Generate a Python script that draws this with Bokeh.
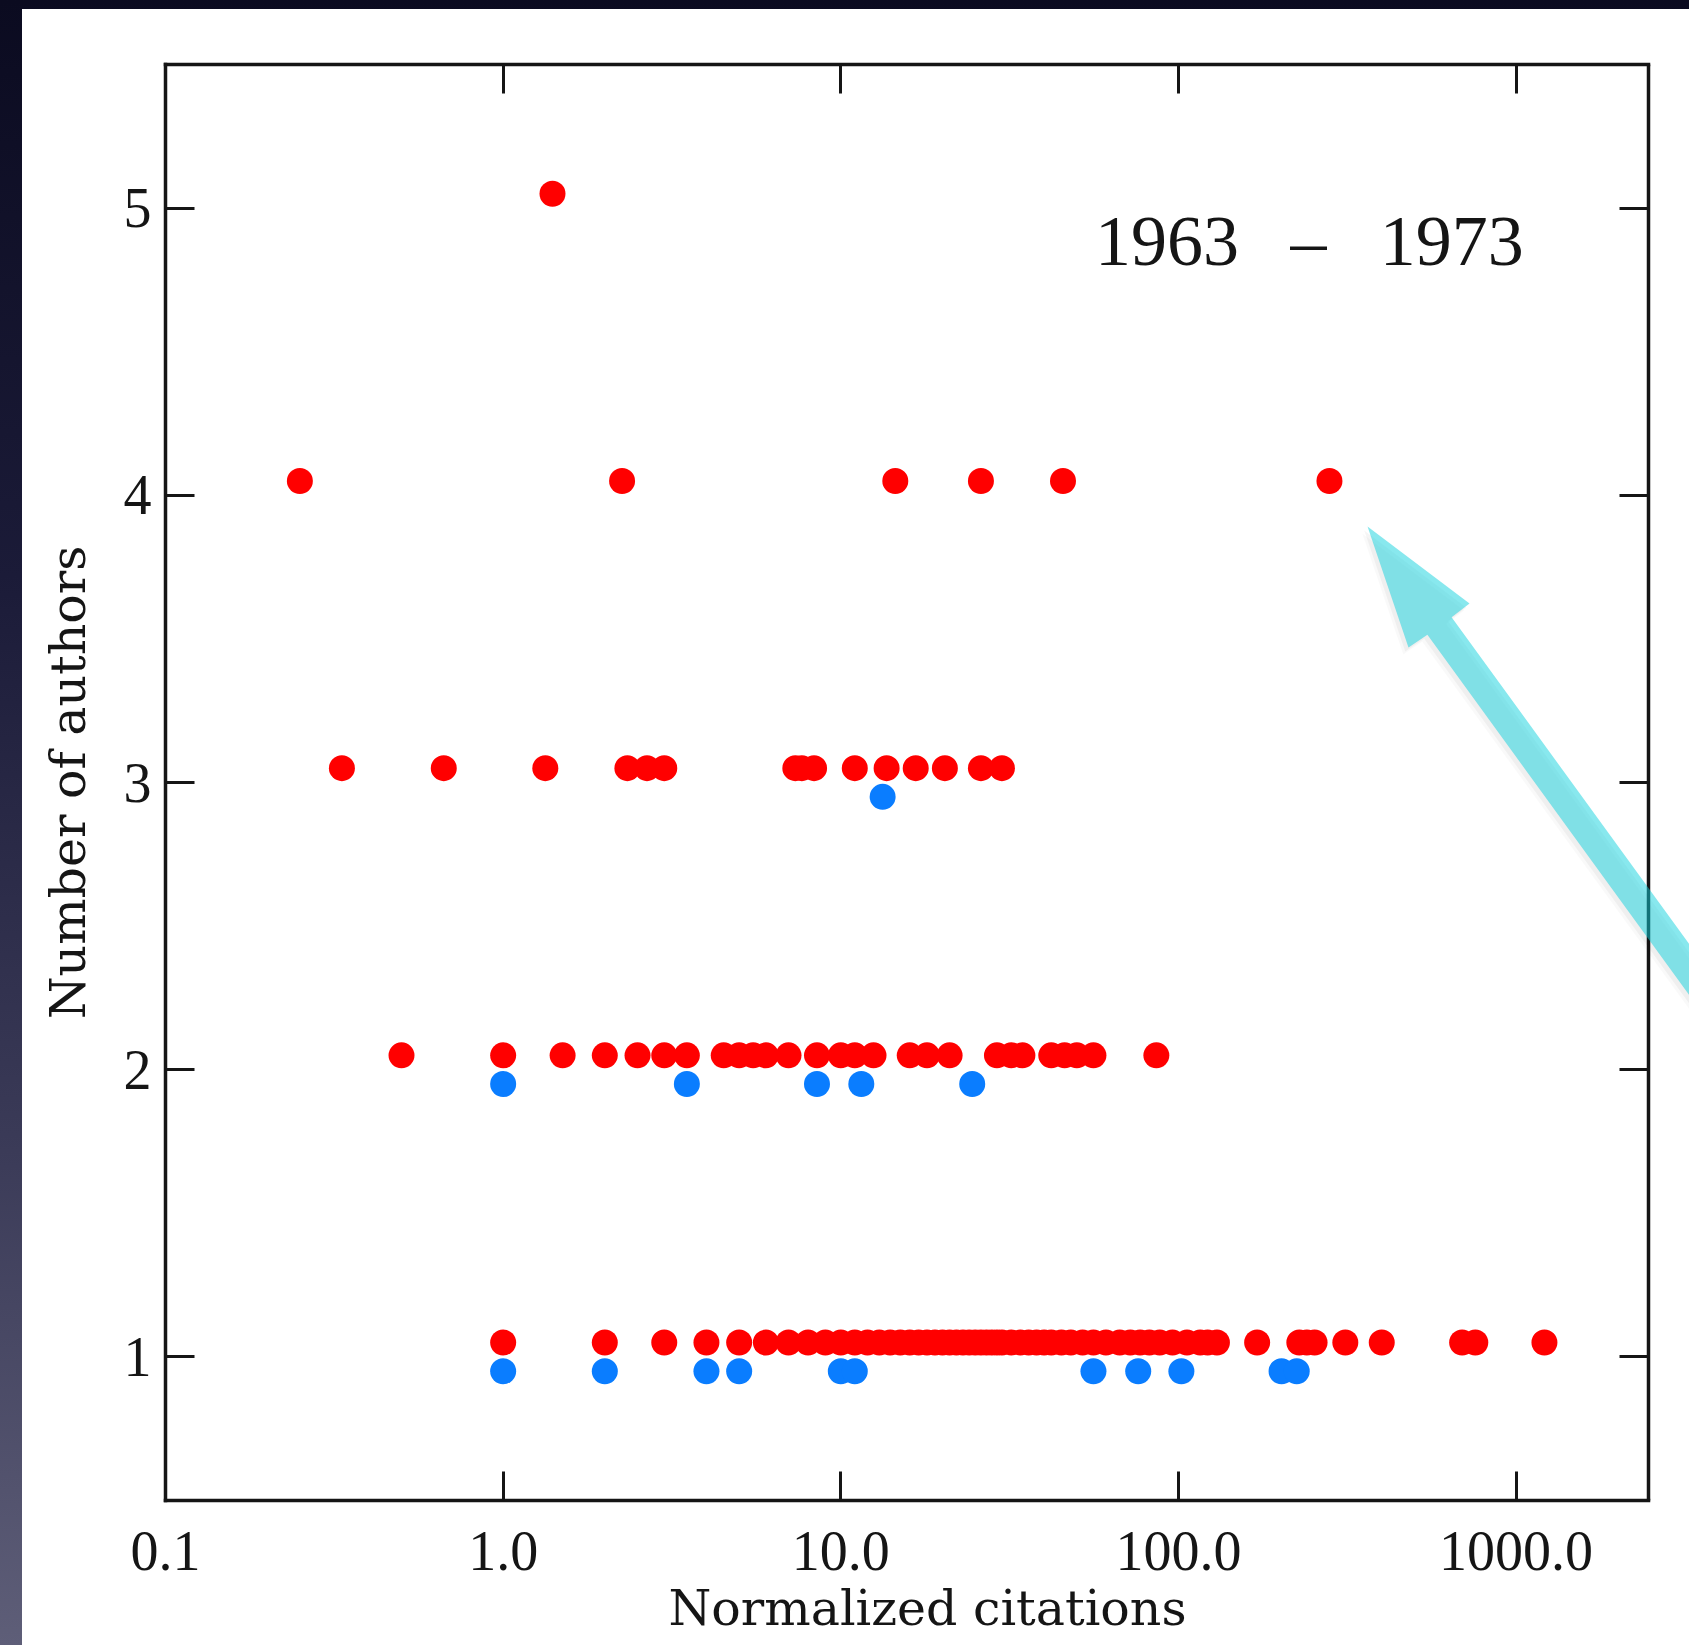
from bokeh.plotting import figure
from bokeh.models import (ColumnDataSource, FixedTicker, LogAxis, LinearAxis,
                          PolyAnnotation, Label)
from bokeh.embed import file_html
from bokeh.resources import INLINE

# ---------------- data ----------------
author_levels = [1, 2, 3, 4, 5]

# red points: normalized citations per number of authors
red_1 = [1, 2, 3, 4, 5, 6, 7, 8, 9, 10, 11, 12, 13, 14, 15, 16, 17, 18, 19, 20,
         21, 22, 23, 24, 25, 26, 27, 28, 29, 30, 32, 34, 36, 38, 40, 42, 45, 48,
         52, 56, 61, 67, 72, 77, 82, 88, 96, 106, 116, 122, 130, 171, 228, 240,
         253, 312, 400, 692, 757, 1213]
red_2 = [0.5, 1.0, 1.5, 2.0, 2.5, 3.0, 3.5, 4.5, 5.0, 5.5, 6.0, 7.0, 8.5, 10.0,
         11.0, 12.5, 16.0, 18.0, 21.0, 29.0, 32.0, 34.5, 42.0, 46.0, 50.0, 56.0,
         86.0]
red_3 = [0.333, 0.667, 1.333, 2.333, 2.667, 3.0, 7.333, 7.667, 8.333, 11.0,
         13.667, 16.667, 20.333, 26.0, 30.0]
red_4 = [0.25, 2.25, 14.5, 26.0, 45.5, 280.0]
red_5 = [1.4]

# blue points
blue_1 = [1, 2, 4, 5, 10, 11, 56, 76, 102, 202, 224]
blue_2 = [1.0, 3.5, 8.5, 11.5, 24.5]
blue_3 = [13.3]

red_by_level = {1: red_1, 2: red_2, 3: red_3, 4: red_4, 5: red_5}
blue_by_level = {1: blue_1, 2: blue_2, 3: blue_3}

x_ticks = [0.1, 1, 10, 100, 1000]
x_tick_labels = ["0.1", "1.0", "10.0", "100.0", "1000.0"]
y_ticks = [1, 2, 3, 4, 5]

period_start = "1963"
period_dash = "\u2013"
period_end = "1973"

# ---------------- sources ----------------
red_x, red_y, blue_x, blue_y = [], [], [], []
for lvl in author_levels:
    for v in red_by_level.get(lvl, []):
        red_x.append(v)
        red_y.append(lvl + 0.05)
    for v in blue_by_level.get(lvl, []):
        blue_x.append(v)
        blue_y.append(lvl - 0.05)

red_src = ColumnDataSource(dict(x=red_x, y=red_y))
blue_src = ColumnDataSource(dict(x=blue_x, y=blue_y))

# ---------------- figure ----------------
BOX_RIGHT = 2466          # right edge of the drawn box (data units)
W, H = 1667, 1636
p = figure(width=W, height=H, x_axis_type="log",
           x_range=(0.1, 3262), y_range=(0.5, 5.5),
           output_backend="svg", toolbar_location=None,
           min_border_left=143, min_border_right=0,
           min_border_top=55, min_border_bottom=145)
p.background_fill_color = "white"
p.border_fill_color = "white"
p.grid.visible = False
p.outline_line_color = None

INK = "#151515"
TICK_FONT = "Liberation Serif"
TITLE_FONT = "DejaVu Serif"


def style_axis(ax, show_labels):
    ax.axis_line_color = INK
    ax.axis_line_width = 3.5
    ax.axis_line_cap = "square"
    ax.major_tick_in = 29
    ax.major_tick_out = 0
    ax.major_tick_line_width = 3
    ax.major_tick_line_color = INK
    ax.minor_tick_line_color = None
    if show_labels:
        ax.major_label_text_font = TICK_FONT
        ax.major_label_text_font_size = "56px"
        ax.major_label_text_color = INK
    else:
        ax.major_label_text_font_size = "1px"
        ax.major_label_text_alpha = 0
        ax.major_label_standoff = 0


xa = p.xaxis[0]
ya = p.yaxis[0]
xa.ticker = FixedTicker(ticks=x_ticks)
xa.bounds = (0.1, BOX_RIGHT)
xa.major_label_overrides = {t: s for t, s in zip(x_ticks, x_tick_labels)}
ya.ticker = FixedTicker(ticks=y_ticks)
style_axis(xa, True)
style_axis(ya, True)
xa.major_label_standoff = 31
ya.major_label_standoff = 14

xa.axis_label = "Normalized citations"
ya.axis_label = "Number of authors"
for ax in (xa, ya):
    ax.axis_label_text_font = TITLE_FONT
    ax.axis_label_text_font_size = "49px"
    ax.axis_label_text_font_style = "normal"
    ax.axis_label_text_color = INK
xa.axis_label_standoff = 7
ya.axis_label_standoff = 24

top_ax = LogAxis(ticker=FixedTicker(ticks=x_ticks), bounds=(0.1, BOX_RIGHT))
right_ax = LinearAxis(ticker=FixedTicker(ticks=y_ticks), fixed_location=BOX_RIGHT)
style_axis(top_ax, False)
style_axis(right_ax, False)
top_ax.major_label_overrides = {t: "" for t in x_ticks}
right_ax.major_label_overrides = {t: "" for t in y_ticks}
p.add_layout(top_ax, "above")
p.add_layout(right_ax, "right")

# ---------------- points ----------------
p.scatter(x="x", y="y", source=red_src, size=26, marker="circle",
          fill_color="#ff0000", line_color=None)
p.scatter(x="x", y="y", source=blue_src, size=26, marker="circle",
          fill_color="#0a7dff", line_color=None)

# ---------------- period label ----------------
for txt, xpos, align in ((period_start, 56.6, "left"),
                         (period_dash, 242.7, "center"),
                         (period_end, 1053.0, "right")):
    p.add_layout(Label(x=xpos, y=4.884, text=txt, text_font=TICK_FONT,
                       text_font_size="72px", text_color=INK,
                       text_align=align, text_baseline="alphabetic"))

# ---------------- cyan arrow (annotation) ----------------
arrow_xs = [363.0, 727.8, 644.1, 4783.0, 4055.0, 546.1, 480.0]
arrow_ys = [3.8914, 3.6233, 3.5755, 2.1671, 2.1058, 3.5143, 3.4700]
for fx, dy, a in ((0.965, 0.024, 0.025), (0.978, 0.014, 0.04)):
    p.add_layout(PolyAnnotation(xs=[v * fx for v in arrow_xs],
                                ys=[v - dy for v in arrow_ys],
                                fill_color="#000000", fill_alpha=a,
                                line_color=None))
p.add_layout(PolyAnnotation(xs=arrow_xs, ys=arrow_ys, fill_color="#11d1dd",
                            fill_alpha=0.5, line_color=None))

html = file_html(p, INLINE, title="Number of authors vs normalized citations")
css = ("<style>html{background:linear-gradient(to bottom,#0b0b20 0%,#1b1b38 35%,"
       "#3b3b58 70%,#5e5e78 100%);overflow:hidden;margin:0;padding:0;}"
       "body{margin:9px 0 0 22px;padding:0;background:#ffffff;overflow:hidden;}</style>")
html = html.replace("</head>", css + "</head>", 1)
open("out.html", "w").write(html)
